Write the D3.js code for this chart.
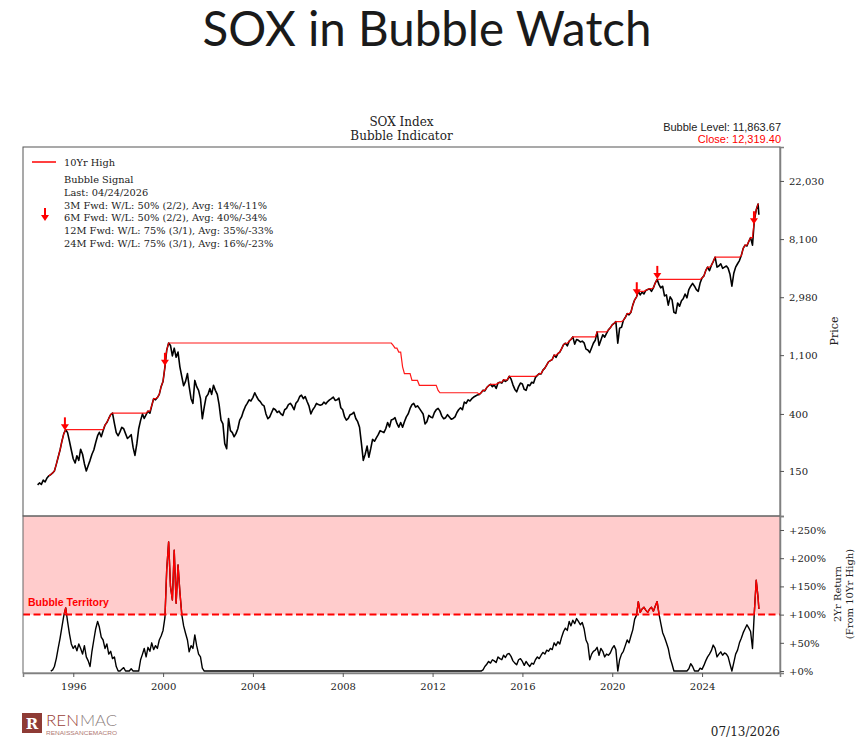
<!DOCTYPE html>
<html>
<head>
<meta charset="utf-8">
<script src="https://cdn.jsdelivr.net/npm/d3@7"></script>
<style>
  body { margin: 0; background: #fff; }
  svg { display: block; }
</style>
</head>
<body>
<div id="chart"></div>
<script>
// SOX month-end closes (first one is May 1994, last one is 07/13/2026)
var priceStart = [1994, 5];
var sox1994_1999 = [
  118, 122, 119, 128, 124, 133, 138, 141,
  145, 150, 168, 190, 215, 250, 285, 305, 290, 250, 215, 185,
  172, 195, 180, 218, 200, 170, 150, 165, 180, 200, 215, 245,
  275, 292, 270, 300, 330, 345, 370, 395, 406, 340, 290, 275,
  295, 318, 310, 285, 262, 270, 280, 225, 196, 240, 310, 358,
  400, 370, 395, 420, 405, 460, 520, 510, 530, 560, 640, 700
];
var sox2000_2009 = [
  900, 1200, 1355, 1300, 1085, 1240, 1060, 1160, 900, 760, 650, 700,
  800, 640, 520, 480, 712, 640, 600, 520, 368, 450, 535, 560,
  620, 560, 655, 600, 560, 470, 360, 337, 240, 220, 370, 300,
  290, 270, 285, 310, 360, 380, 420, 455, 480, 510, 500, 530,
  576, 540, 510, 495, 470, 460, 400, 368, 380, 410, 440, 430,
  410, 420, 400, 390, 430, 440, 470, 480, 460, 430, 480, 500,
  540, 552, 520, 540, 495, 460, 400, 430, 450, 480, 470, 465,
  470, 490, 475, 495, 510, 520, 535, 505, 510, 525, 445, 430,
  380, 360, 370, 395, 400, 412, 370, 350, 318, 240, 180, 200,
  230, 190, 220, 258, 250, 265, 280, 300, 295, 290, 310, 345
];
var sox2010_2019 = [
  320, 360, 365, 375, 340, 318, 345, 318, 350, 380, 400, 440,
  470, 480, 450, 460, 440, 420, 400, 337, 350, 390, 380, 375,
  410, 430, 440, 420, 385, 368, 375, 395, 380, 365, 370, 380,
  410, 430, 445, 430, 490, 480, 510, 500, 520, 535, 545, 555,
  560, 576, 600, 595, 630, 650, 666, 640, 660, 620, 680, 690,
  680, 720, 700, 715, 764, 730, 660, 610, 585, 640, 680, 670,
  610, 600, 660, 650, 690, 680, 750, 777, 800, 795, 850, 880,
  930, 980, 1000, 1020, 1100, 1060, 1130, 1160, 1230, 1320, 1350, 1290,
  1400, 1440, 1505, 1330, 1440, 1420, 1380, 1400, 1360, 1220, 1200, 1150,
  1250, 1350, 1420, 1640, 1300, 1420, 1560, 1500, 1600, 1700, 1760, 1850
];
var sox2020_2026 = [
  1900, 1960, 1350, 1750, 1780, 2000, 2100, 2250, 2200, 2300, 2600, 2850,
  3000, 3300, 3100, 3250, 3150, 3350, 3400, 3450, 3300, 3500, 3800, 4050,
  3700, 3500, 3600, 3050, 3100, 2600, 3000, 2850, 2300, 2260, 2700, 2550,
  2800, 2900, 3150, 2950, 3400, 3600, 3780, 3600, 3400, 3300, 3800, 4150,
  4300, 4700, 5000, 4700, 5150, 5500, 5932, 5000, 5100, 5300, 4900, 5000,
  5100, 4900, 4400, 3600, 4500, 5000, 5300, 5600, 6100, 6900, 7300, 7200,
  7800, 8300, 7300, 11200, 13400, 14800, 12319.4
];

// 2Yr return from 10Yr high, %, month ends from Dec 1994
var retStart = [1994, 12];
var ret1994_1999 = [
  0,
  2, 8, 22, 40, 58, 78, 98, 112, 88, 66, 48, 40,
  45, 36, 48, 40, 30, 45, 25, 18, 8, 35, 55, 75,
  88, 78, 60, 55, 40, 48, 30, 35, 22, 25, 8, 0,
  0, 3, 6, 0, 0, 0, 4, 0, 0, 0, 0, 20,
  30, 40, 25, 42, 35, 50, 38, 45, 40, 55, 62, 72
];
var ret2000_2009 = [
  95, 180, 229, 150, 126, 214, 120, 188, 140, 100, 80, 67,
  55, 34, 45, 40, 64, 45, 30, 25, 5, 0, 0, 0,
  0, 0, 0, 0, 0, 0, 0, 0, 0, 0, 0, 0,
  0, 0, 0, 0, 0, 0, 0, 0, 0, 0, 0, 0,
  0, 0, 0, 0, 0, 0, 0, 0, 0, 0, 0, 0,
  0, 0, 0, 0, 0, 0, 0, 0, 0, 0, 0, 0,
  0, 0, 0, 0, 0, 0, 0, 0, 0, 0, 0, 0,
  0, 0, 0, 0, 0, 0, 0, 0, 0, 0, 0, 0,
  0, 0, 0, 0, 0, 0, 0, 0, 0, 0, 0, 0,
  0, 0, 0, 0, 0, 0, 0, 0, 0, 0, 0, 0
];
var ret2010_2019 = [
  0, 0, 0, 0, 0, 0, 0, 0, 0, 0, 0, 0,
  0, 0, 0, 0, 0, 0, 0, 0, 0, 0, 0, 0,
  0, 0, 0, 0, 0, 0, 0, 0, 0, 0, 0, 0,
  0, 0, 0, 0, 0, 0, 0, 0, 0, 0, 0, 0,
  0, 0, 2, 8, 12, 17, 14, 20, 18, 15, 25, 22,
  20, 28, 24, 30, 31, 26, 18, 14, 11, 20, 22, 17,
  10, 17, 12, 8, 14, 12, 20, 25, 22, 28, 33, 30,
  37, 35, 40, 38, 50, 45, 52, 48, 60, 70, 76, 72,
  88, 80, 90, 84, 93, 88, 82, 86, 75, 55, 48, 20,
  30, 35, 37, 42, 28, 40, 35, 25, 30, 28, 32, 40
];
var ret2020_2026 = [
  45, 38, 0, 20, 30, 35, 45, 55, 50, 62, 73, 92,
  99, 123, 104, 110, 113, 108, 104, 110, 113, 106, 115, 123,
  101, 85, 68, 60, 50, 40, 23, 12, 0, 0, 0, 0,
  0, 0, 0, 0, 4, 13, 8, 0, 0, 0, 5, 3,
  10, 18, 25, 30, 36, 46, 40, 25, 30, 34, 28, 32,
  30, 25, 12, 0, 15, 30, 37, 50, 58, 68, 75, 82,
  76, 70, 40, 104, 161, 130, 110
];

var lastDate = "2026-07-13";
var highFrom = "1994-11-01";     // 10Yr High line starts here on the chart
var signalDates = ["1995-08-18", "2000-01-31", "2021-02-03", "2022-01-03", "2026-04-24"];
var bubbleLine = 100;

var priceTicks = [150, 400, 1100, 2980, 8100, 22030];
var retTicks = [0, 50, 100, 150, 200, 250];
var yearTicks = [1996, 2000, 2004, 2008, 2012, 2016, 2020, 2024];

var legendHigh = "10Yr High";
var legendSignal = [
  "Bubble Signal",
  "Last: 04/24/2026",
  "3M Fwd: W/L: 50% (2/2), Avg: 14%/-11%",
  "6M Fwd: W/L: 50% (2/2), Avg: 40%/-34%",
  "12M Fwd: W/L: 75% (3/1), Avg: 35%/-33%",
  "24M Fwd: W/L: 75% (3/1), Avg: 16%/-23%"
];
var bubbleLevelText = "Bubble Level: 11,863.67";
var closeText = "Close: 12,319.40";
var reportDate = "07/13/2026";

// ---- layout
var W = 860, H = 747;
var L = 23, R = 780, T = 147, M = 516, B = 673;
var serif = "'DejaVu Serif', serif";
var sans = "'Liberation Sans', Arial, sans-serif";
var RED = "#ff0000";

var parse = d3.timeParse("%Y-%m-%d");

function monthly(start, values) {
  return values.map(function(v, i) {
    var k = start[1] - 1 + i;
    return { date: new Date(start[0] + Math.floor(k / 12), k % 12 + 1, 0), value: v };
  });
}
function yearToDate(f) {
  var y = Math.floor(f), a = new Date(y, 0, 1), b = new Date(y + 1, 0, 1);
  return new Date(+a + (f - y) * (b - a));
}

var prices = monthly(priceStart, [].concat(sox1994_1999, sox2000_2009, sox2010_2019, sox2020_2026));
var rets = monthly(retStart, [].concat(ret1994_1999, ret2000_2009, ret2010_2019, ret2020_2026));
prices[prices.length - 1].date = parse(lastDate);
rets[rets.length - 1].date = parse(lastDate);

// rolling 10 year (120 month) high
var highs = prices.map(function(d, i) {
  var lo = Math.max(0, i - 119);
  return { date: d.date, value: d3.max(prices.slice(lo, i + 1), function(p) { return p.value; }) };
}).filter(function(d) { return d.date >= parse(highFrom); });

var x = d3.scaleTime().domain([yearToDate(1993.76), yearToDate(2027.47)]).range([L, R]);
var yP = d3.scaleLog().domain([69.1, 39500]).range([M, T]);
var yR = d3.scaleLinear().domain([-3.5, 274.8]).range([B, M]);

var svg = d3.select("#chart").append("svg")
  .attr("width", W).attr("height", H)
  .style("font-family", serif);

svg.append("rect").attr("width", W).attr("height", H).attr("fill", "#fff");

// main title
var title = svg.append("text")
  .attr("x", 427).attr("y", 46)
  .attr("text-anchor", "middle")
  .style("font-family", "Lato, 'Open Sans', sans-serif")
  .style("font-size", "46px")
  .attr("fill", "#1a1a1a")
  .text("SOX in Bubble Watch");
var tw = title.node().getComputedTextLength();
title.style("font-size", (46 * 449 / tw).toFixed(2) + "px");

// chart titles
svg.append("text").attr("x", (L + R) / 2).attr("y", 126).attr("text-anchor", "middle")
  .style("font-size", "12px").attr("fill", "#222").text("SOX Index");
svg.append("text").attr("x", (L + R) / 2).attr("y", 140).attr("text-anchor", "middle")
  .style("font-size", "12px").attr("fill", "#222").text("Bubble Indicator");

svg.append("text").attr("x", R + 1).attr("y", 131).attr("text-anchor", "end")
  .style("font-family", sans).style("font-size", "11px").attr("fill", "#222")
  .text(bubbleLevelText);
svg.append("text").attr("x", R + 1).attr("y", 143).attr("text-anchor", "end")
  .style("font-family", sans).style("font-size", "11px").attr("fill", RED)
  .text(closeText);

// clip paths
var defs = svg.append("defs");
defs.append("clipPath").attr("id", "clipTop").append("rect")
  .attr("x", L).attr("y", T).attr("width", R - L).attr("height", M - T);
defs.append("clipPath").attr("id", "clipBot").append("rect")
  .attr("x", L).attr("y", M).attr("width", R - L).attr("height", B - M);
defs.append("clipPath").attr("id", "clipHot").append("rect")
  .attr("x", L).attr("y", M).attr("width", R - L).attr("height", yR(bubbleLine) - M);

// ---- top panel
var gTop = svg.append("g").attr("clip-path", "url(#clipTop)");
var lineP = d3.line().x(function(d) { return x(d.date); }).y(function(d) { return yP(d.value); });

gTop.append("path").datum(prices).attr("d", lineP)
  .attr("fill", "none").attr("stroke", "#000").attr("stroke-width", 1.6)
  .attr("stroke-linejoin", "round");
gTop.append("path").datum(highs).attr("d", lineP)
  .attr("fill", "none").attr("stroke", RED).attr("stroke-width", 1.2)
  .attr("stroke-opacity", 0.9);

function arrow(g, cx, tip) {
  g.append("line").attr("x1", cx).attr("x2", cx).attr("y1", tip - 13).attr("y2", tip - 5)
    .attr("stroke", RED).attr("stroke-width", 2);
  g.append("path")
    .attr("d", "M" + (cx - 4) + "," + (tip - 6) + "L" + (cx + 4) + "," + (tip - 6) + "L" + cx + "," + tip + "Z")
    .attr("fill", RED);
}

// signal arrows, tip on the price path
signalDates.forEach(function(s) {
  var d = parse(s);
  var j = d3.bisector(function(p) { return p.date; }).right(prices, d) - 1;
  j = Math.max(0, Math.min(prices.length - 2, j));
  var a = prices[j], b = prices[j + 1];
  var t = (d - a.date) / (b.date - a.date);
  var tip = yP(a.value) + t * (yP(b.value) - yP(a.value));
  arrow(gTop, x(d), tip - 1);
});

// legend
svg.append("line").attr("x1", 32).attr("x2", 56).attr("y1", 162).attr("y2", 162)
  .attr("stroke", RED).attr("stroke-width", 1.5);
svg.append("text").attr("x", 64).attr("y", 166).style("font-size", "9.8px")
  .attr("fill", "#222").text(legendHigh);
svg.selectAll(".leg").data(legendSignal).enter().append("text")
  .attr("class", "leg")
  .attr("x", 64).attr("y", function(d, i) { return 183 + i * 12.8; })
  .style("font-size", "9.8px").attr("fill", "#222")
  .text(function(d) { return d; });
arrow(svg, 45, 221);

// ---- bottom panel
svg.append("rect").attr("x", L).attr("y", M).attr("width", R - L)
  .attr("height", yR(bubbleLine) - M).attr("fill", "#ffcccc");

var gBot = svg.append("g").attr("clip-path", "url(#clipBot)");
var lineR = d3.line().x(function(d) { return x(d.date); }).y(function(d) { return yR(d.value); });
gBot.append("path").datum(rets).attr("d", lineR)
  .attr("fill", "none").attr("stroke", "#000").attr("stroke-width", 1.4)
  .attr("stroke-linejoin", "round");
svg.append("path").datum(rets).attr("d", lineR)
  .attr("clip-path", "url(#clipHot)")
  .attr("fill", "none").attr("stroke", RED).attr("stroke-width", 1.4)
  .attr("stroke-linejoin", "round");

svg.append("line").attr("x1", L).attr("x2", R)
  .attr("y1", yR(bubbleLine)).attr("y2", yR(bubbleLine))
  .attr("stroke", RED).attr("stroke-width", 2).attr("stroke-dasharray", "7,3.5");

svg.append("text").attr("x", 28).attr("y", 606)
  .style("font-family", sans).style("font-size", "10.5px").style("font-weight", "bold")
  .attr("fill", RED).text("Bubble Territory");

// ---- frames
svg.append("rect").attr("x", L).attr("y", T).attr("width", R - L).attr("height", M - T)
  .attr("fill", "none").attr("stroke", "#555").attr("stroke-width", 1);
svg.append("rect").attr("x", L).attr("y", M).attr("width", R - L).attr("height", B - M)
  .attr("fill", "none").attr("stroke", "#666").attr("stroke-width", 1);

// ---- axes
function styleAxis(g) {
  g.select(".domain").attr("stroke", "#808080").attr("stroke-width", 1.5);
  g.selectAll(".tick line").attr("stroke", "#555");
  g.selectAll(".tick text").attr("fill", "#222").style("font-family", serif).style("font-size", "10px");
}

svg.append("g").attr("transform", "translate(" + R + ",0)")
  .call(d3.axisRight(yP).tickValues(priceTicks).tickSize(4).tickPadding(5)
    .tickFormat(d3.format(",")))
  .call(styleAxis);

svg.append("g").attr("transform", "translate(" + R + ",0)")
  .call(d3.axisRight(yR).tickValues(retTicks).tickSize(4).tickPadding(5)
    .tickFormat(function(d) { return "+" + d + "%"; }))
  .call(styleAxis);

svg.append("g").attr("transform", "translate(0," + B + ")")
  .call(d3.axisBottom(x).tickValues(yearTicks.map(function(y) { return new Date(y, 0, 1); }))
    .tickSize(4).tickPadding(6).tickFormat(d3.timeFormat("%Y")))
  .call(styleAxis);

// axis titles
svg.append("text").attr("transform", "translate(838,331) rotate(-90)")
  .attr("text-anchor", "middle").style("font-size", "11px").attr("fill", "#222").text("Price");
svg.append("text").attr("transform", "translate(841,594) rotate(-90)")
  .attr("text-anchor", "middle").style("font-size", "10px").attr("fill", "#222").text("2Yr Return");
svg.append("text").attr("transform", "translate(853,594) rotate(-90)")
  .attr("text-anchor", "middle").style("font-size", "10px").attr("fill", "#222").text("(From 10Yr High)");

// ---- footer
var logo = svg.append("g");
logo.append("rect").attr("x", 22).attr("y", 713).attr("width", 20).attr("height", 20).attr("fill", "#8e3b35");
logo.append("text").attr("x", 32).attr("y", 729).attr("text-anchor", "middle")
  .style("font-family", serif).style("font-size", "15px").style("font-weight", "bold")
  .attr("fill", "#fff").text("R");
logo.append("text").attr("x", 46).attr("y", 726)
  .style("font-family", "Lato, sans-serif").style("font-size", "16px").style("font-weight", 300)
  .attr("textLength", 33).attr("lengthAdjust", "spacingAndGlyphs")
  .attr("fill", "#9a3f38").text("REN");
logo.append("text").attr("x", 80).attr("y", 726)
  .style("font-family", "Lato, sans-serif").style("font-size", "16px").style("font-weight", 300)
  .attr("textLength", 37).attr("lengthAdjust", "spacingAndGlyphs")
  .attr("fill", "#8c8080").text("MAC");
logo.append("text").attr("x", 46).attr("y", 735)
  .style("font-family", sans).style("font-size", "4.5px")
  .attr("textLength", 71).attr("lengthAdjust", "spacingAndGlyphs")
  .attr("fill", "#b07a74").text("RENAISSANCEMACRO");

svg.append("text").attr("x", 780).attr("y", 736).attr("text-anchor", "end")
  .style("font-size", "12px").attr("fill", "#222").text(reportDate);
</script>
</body>
</html>
